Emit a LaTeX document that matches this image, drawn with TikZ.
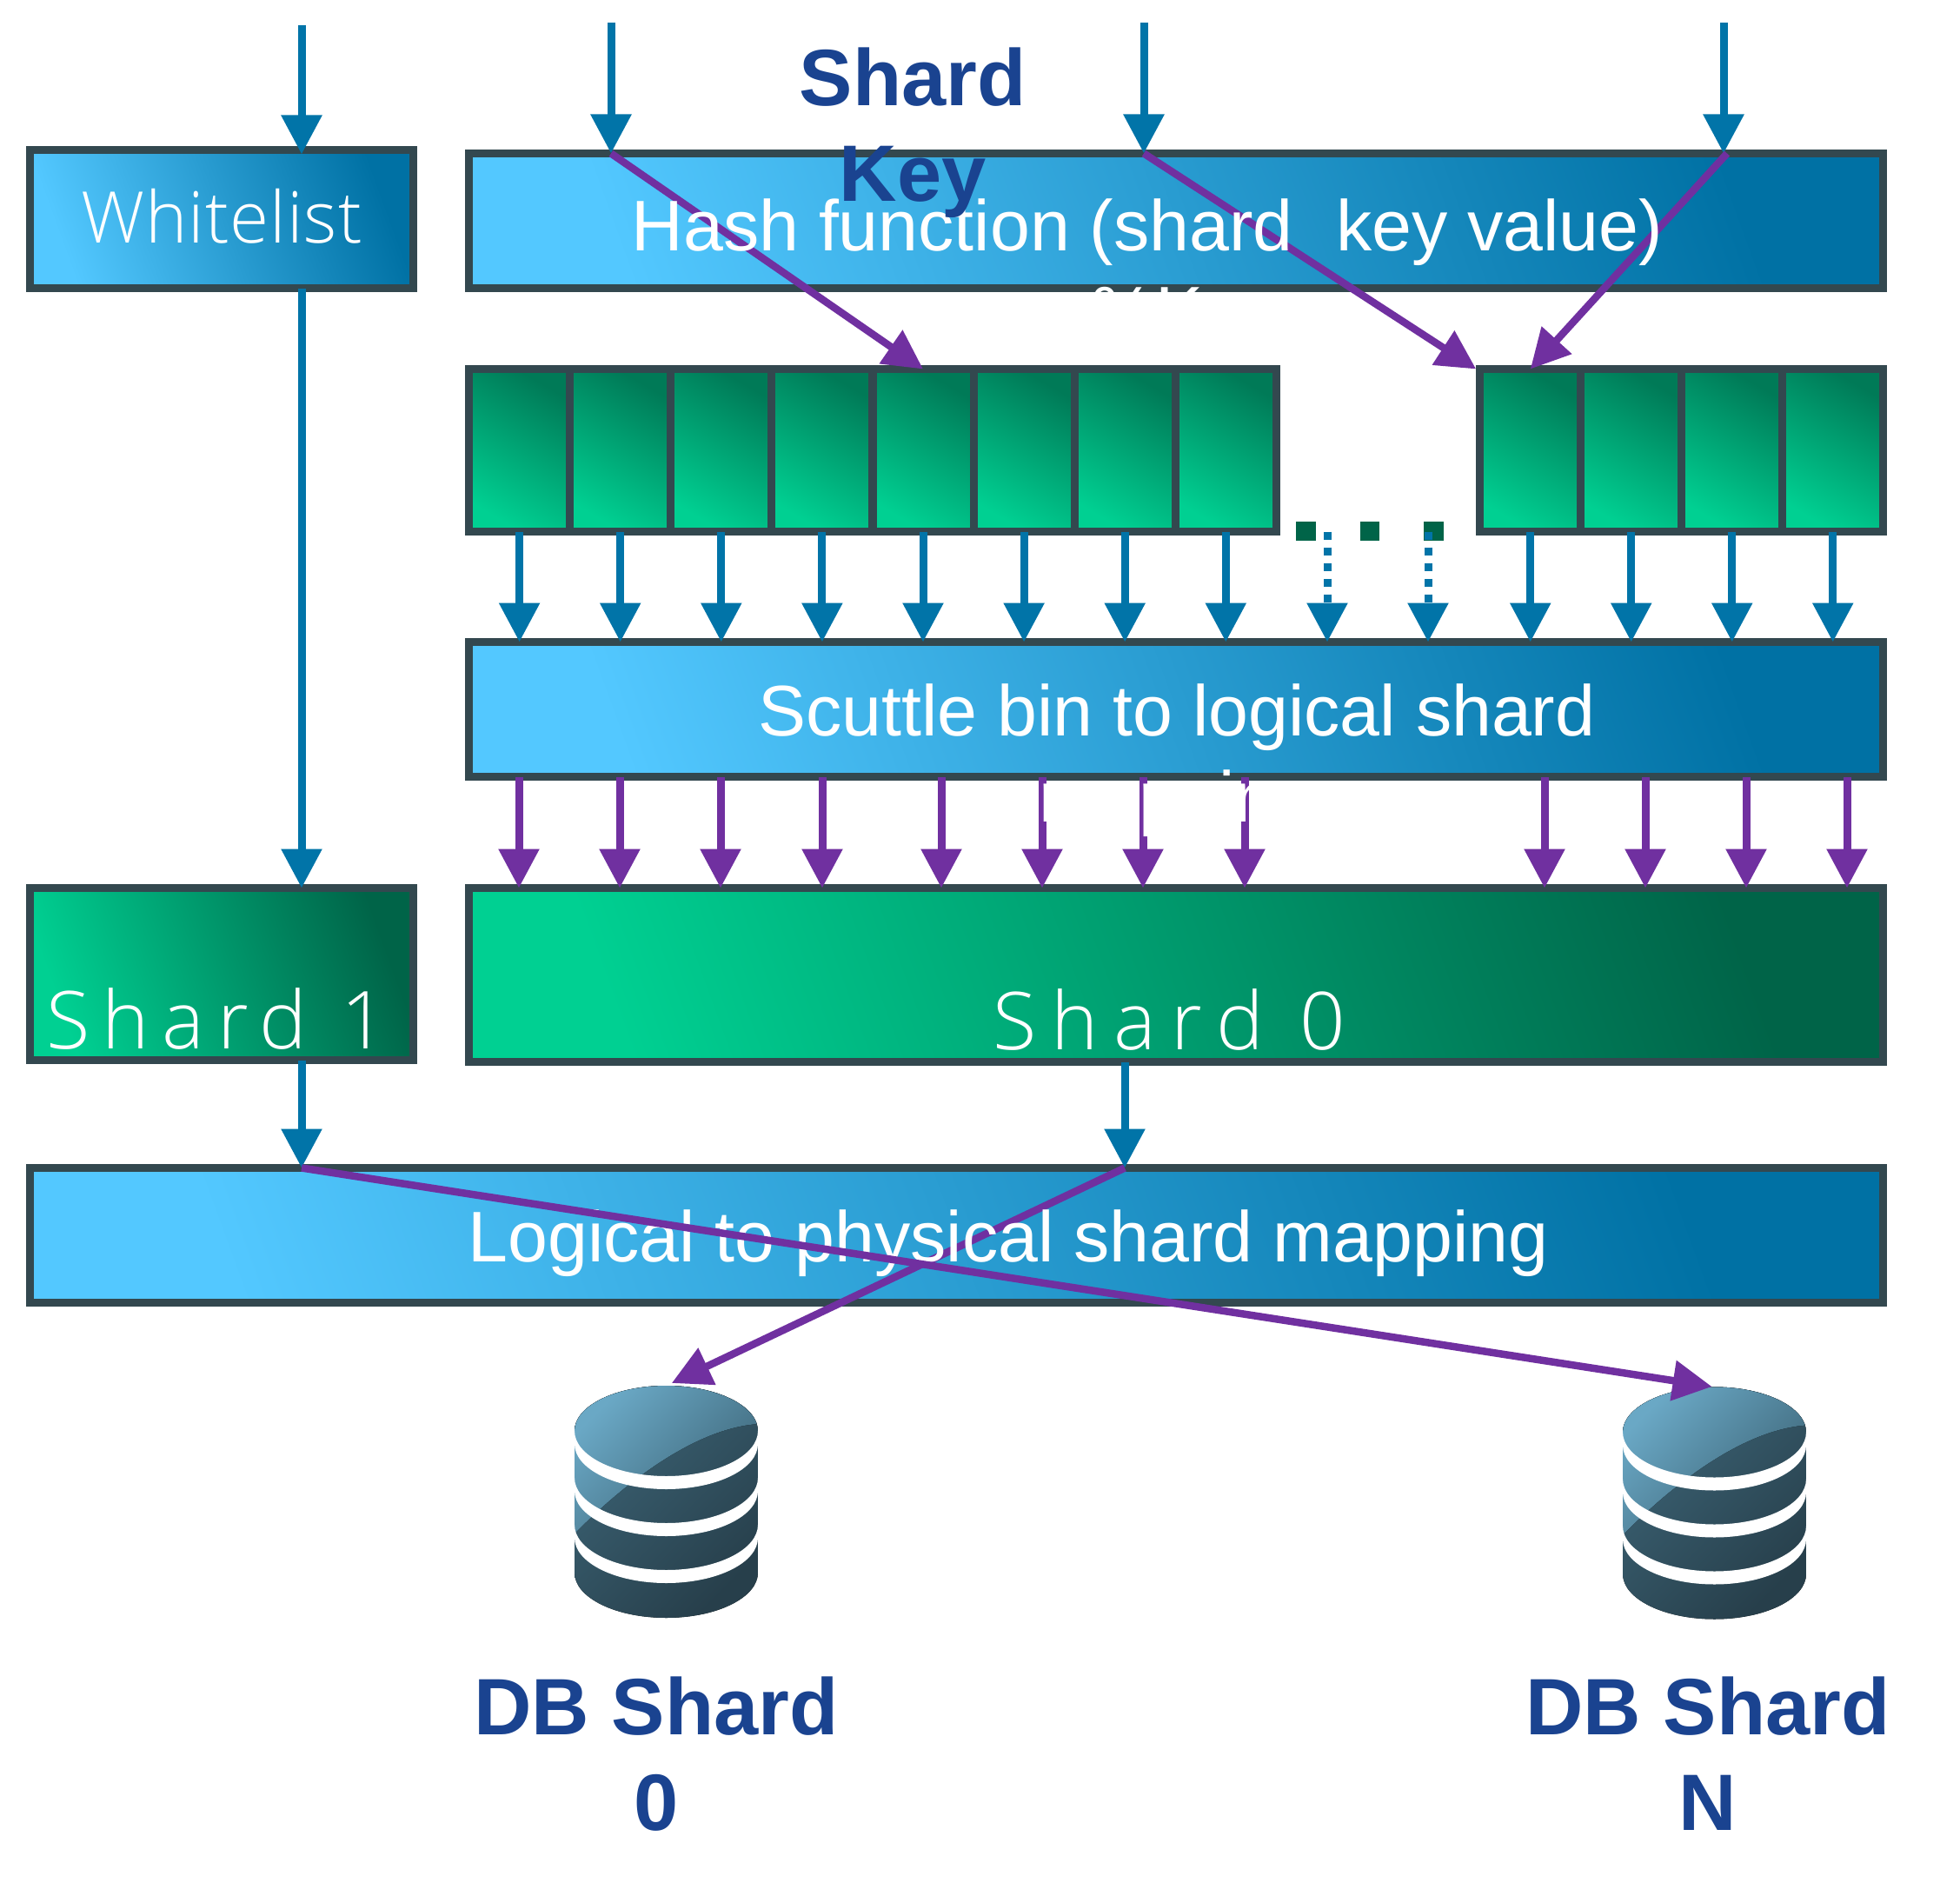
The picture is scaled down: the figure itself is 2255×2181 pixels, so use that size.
\documentclass[tikz,border=0pt]{standalone}
\usepackage{fontspec}
\setmainfont{Liberation Sans}
\newfontfamily\lightfont[LetterSpace=1.2]{Open Sans Light}
\newfontfamily\lightspaced[LetterSpace=16]{Open Sans Light}
\newfontfamily\lightwider[LetterSpace=19]{Open Sans Light}
\usetikzlibrary{arrows.meta}
\usetikzlibrary{calc}

\definecolor{edge_gray}{HTML}{33484F}
\definecolor{flow_blue}{HTML}{0174A8}
\definecolor{map_purple}{HTML}{7030A0}
\definecolor{title_blue}{HTML}{1A4390}
\definecolor{sky_light}{HTML}{53C8FF}
\definecolor{sky_dark}{HTML}{0071A4}
\definecolor{leaf_light}{HTML}{00D092}
\definecolor{leaf_mid}{HTML}{00BE86}
\definecolor{leaf_dark}{HTML}{006448}
\definecolor{drum_light}{HTML}{6AA8C5}
\definecolor{drum_mid}{HTML}{3C6375}
\definecolor{drum_dark}{HTML}{273F4B}

\tikzset{
    box_style/.style={draw=edge_gray,line width=9pt,inner sep=0pt,outer sep=0pt},
    blue_box/.style={box_style,left color=sky_light,right color=sky_dark,shading angle=110},
    green_box/.style={box_style,left color=leaf_light,middle color=leaf_mid,right color=leaf_dark,shading angle=110},
    bin_cell/.style={box_style,minimum width=116pt,minimum height=187pt,
        left color=leaf_light,right color=leaf_dark!80!leaf_light,shading angle=150},
    flow_arrow/.style={draw=flow_blue,line width=9pt,-{Triangle[length=45pt,width=45pt]}},
    map_arrow/.style={draw=map_purple,line width=9pt,-{Triangle[length=45pt,width=45pt]}},
    hop_arrow/.style={draw=map_purple,line width=8.5pt,-{Triangle[length=45pt,width=45pt]}},
    white_text/.style={font=\fontsize{82.5}{99}\selectfont,text=white,align=center,inner sep=0pt},
    title_text/.style={font=\fontsize{92}{110}\selectfont\bfseries,text=title_blue,align=center,inner sep=0pt},
    light_text/.style={text=white,inner sep=0pt},
    db_node/.style={minimum width=211pt,minimum height=267pt,inner sep=0pt,outer sep=0pt},
    db_icon/.pic={
        \begin{scope}
            \clip (-105.5,-81.5) arc[start angle=180,end angle=0,x radius=105.5pt,y radius=52pt]
                -- (105.5,81.5) arc[start angle=0,end angle=-180,x radius=105.5pt,y radius=52pt] -- cycle;
            \fill[left color=drum_mid,right color=drum_dark,shading angle=45] (-105.5,-134) rectangle (105.5,134);
            \fill[left color=drum_light,right color=drum_mid,shading angle=45] (-105.5,-134) -- (105.5,-134) -- (105.5,-89.5)
                .. controls (40,-85) and (-35.5,-33.5) .. (-103.5,34.5) -- (-105.5,34.5) -- cycle;
        \end{scope}
        \foreach \y in {-81.5,-27.5,26.5}
            \fill[white] (-105.5,\y) arc[start angle=180,end angle=360,x radius=105.5pt,y radius=52pt]
                -- (105.5,\y+15) arc[start angle=360,end angle=180,x radius=105.5pt,y radius=52pt] -- cycle;
    }
}

\begin{document}
\begin{tikzpicture}[x=1pt,y=-1pt]
        \useasboundingbox (0,0) rectangle (2255,2181);

        \node [blue_box,minimum width=441pt,minimum height=159pt] (whitelist) at (255,252) {};
        \node [blue_box,minimum width=1627pt,minimum height=155pt] (hash) at (1353,254) {};
        \node [blue_box,minimum width=1627pt,minimum height=155pt] (scuttle) at (1353,816) {};
        \node [blue_box,minimum width=2132pt,minimum height=155pt] (logical) at (1100.5,1421) {};
        \node [green_box,minimum width=441pt,minimum height=198pt] (shard1) at (255,1120.5) {};
        \node [green_box,minimum width=1627pt,minimum height=200pt] (shard0) at (1353,1121.5) {};

        \foreach \i in {1,...,8}
            \node [bin_cell] (b\i) at ({481.5+116.1*\i},518) {};
        \foreach \i in {9,...,12}
            \node [bin_cell] (b\i) at ({1760.75+116*(\i-9)},518) {};

        \foreach \x [count=\i] in {1502.5,1576,1649.5}
            \node [fill=leaf_dark,minimum size=22.5pt,inner sep=0pt,outer sep=0pt] (dot\i) at (\x,611) {};

        \node [db_node] (db0) at (766.5,1727.5) {};
        \pic at (db0.center) {db_icon};
        \node [db_node] (dbn) at (1972.5,1729) {};
        \pic at (dbn.center) {db_icon};

        \coordinate (in1) at (347,29);
        \coordinate (in2) at (703,26);
        \coordinate (in3) at (1316,26);
        \coordinate (in4) at (1983,26);
        \coordinate (gap1) at (1527,611.5);
        \coordinate (gap2) at (1643,611.5);
        \coordinate (down0) at (1294,1222);

        \draw [flow_arrow,shorten >=-5pt] (in1) -- (in1 |- whitelist.north);
        \draw [flow_arrow] (in2) -- (in2 |- hash.north);
        \draw [flow_arrow] (in3) -- (in3 |- hash.north);
        \draw [flow_arrow] (in4) -- (in4 |- hash.north);
        \draw [flow_arrow] (in1 |- whitelist.south) -- (in1 |- shard1.north);
        \draw [flow_arrow] (in1 |- shard1.south) -- (in1 |- logical.north);
        \draw [flow_arrow] (down0) -- (down0 |- logical.north);

        \foreach \i in {1,...,12}
            \draw [flow_arrow] (b\i.south) -- (b\i.south |- scuttle.north);
        \draw [flow_arrow,dash pattern=on 9pt off 9pt] (gap1) -- (gap1 |- scuttle.north);
        \draw [flow_arrow,dash pattern=on 9pt off 9pt] (gap2) -- (gap2 |- scuttle.north);

        \foreach \x [count=\i] in {597,713,829,946,1083,1199,1315,1432,1777,1893,2009,2125} {
            \coordinate (m\i) at (\x,0);
            \draw [map_arrow] (m\i |- scuttle.south) -- (m\i |- shard0.north);
        }

        \draw [hop_arrow] (in2 |- hash.north) -- (b5.north);
        \draw [hop_arrow] (in3 |- hash.north) -- ([xshift=-4.5pt]b9.north west);
        \draw [hop_arrow] ([xshift=4pt]in4 |- hash.north) -- (b9.north);
        \draw [hop_arrow,shorten >=7pt] (down0 |- logical.north) -- (db0.north);

        \node [white_text,anchor=base] (hash_text) at (1320,387) {Hash function (shard\hspace{.6em}key value)\\\%K};
        \node [white_text,anchor=base] (scuttle_text) at (1354,945) {Scuttle bin to logical shard\\mapping};
        \node [white_text,anchor=base] (logical_text) at (1160,1451) {Logical to physical shard mapping};

        \node [light_text,font=\fontsize{82}{96}\lightfont,anchor=base] (whitelist_text) at (255,279) {Whitelist};
        \node [light_text,font=\fontsize{92}{106}\lightspaced,anchor=base] (shard1_text) at (249,1206) {Shard 1};
        \node [light_text,font=\fontsize{92}{106}\lightwider,anchor=base] (shard0_text) at (1345,1207) {Shard 0};

        \node [title_text,anchor=base] (key_title) at (1050,231) {Shard\\Key};
        \node [title_text,anchor=base] (db0_title) at (755,2105) {DB Shard\\0};
        \node [title_text,anchor=base] (dbn_title) at (1965,2105) {DB Shard\\N};

        \draw [hop_arrow,shorten >=3pt] (in1 |- logical.north) -- (dbn.north);
\end{tikzpicture}
\end{document}
